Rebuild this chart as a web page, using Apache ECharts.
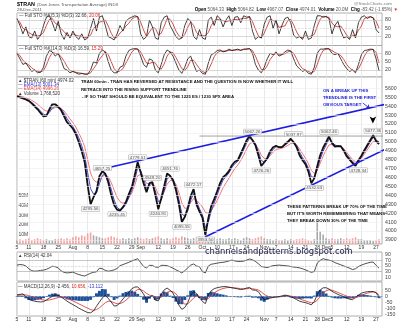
<!DOCTYPE html>
<html><head><meta charset="utf-8">
<script src="https://cdn.jsdelivr.net/npm/echarts@6/dist/echarts.min.js"></script>
<style>html,body{margin:0;padding:0;background:#fff}#c{width:400px;height:323px}</style>
</head><body><div id="c"></div>
<script>
// ---- trading days (categories) ----
const julDays=[5,6,7,8,11,12,13,14,15,18,19,20,21,22,25,26,27,28,29];
const augDays=[1,2,3,4,5,8,9,10,11,12,15,16,17,18,19,22,23,24,25,26,29,30,31];
const sepDays=[1,2,6,7,8,9,12,13,14,15,16,19,20,21,22,23,26,27,28,29,30];
const octDays=[3,4,5,6,7,10,11,12,13,14,17,18,19,20,21,24,25,26,27,28,31];
const novDays=[1,2,3,4,7,8,9,10,11,14,15,16,17,18,21,22,23,25,28,29,30];
const decDays=[1,2,5,6,7,8,9,12,13,14,15,16,19,20,21,22,23,27,28];

const tickLabels=[['Jul 5','5'],['Jul 11','11'],['Jul 18','18'],['Jul 25','25'],['Aug 1','Aug'],['Aug 8','8'],['Aug 15','15'],['Aug 22','22'],['Aug 29','29'],['Sep 1','Sep'],['Sep 12','12'],['Sep 19','19'],['Sep 26','26'],['Oct 3','Oct'],['Oct 10','10'],['Oct 17','17'],['Oct 24','24'],['Nov 1','Nov'],['Nov 7','7'],['Nov 14','14'],['Nov 21','21'],['Nov 28','28'],['Dec 1','Dec'],['Dec 5','5'],['Dec 12','12'],['Dec 19','19'],['Dec 27','27']];

const priceTicks=[3900,4000,4100,4200,4300,4400,4500,4600,4700,4800,4900,5000,5100,5200,5300,5400,5500,5600];
const volumeTicks=[10,20,30,40,50];
const stoTicks=[20,50,80];
const rsiTicks=[10,30,50,70,90];
const macdTicks=[-150,-100,-50,0,50];

// ---- price panel ----
const price=[
5510,5499,5488,5475,5460,5432,5399,5365,5324,5285,
5290,5365,5421,5421,5393,5354,5287,5220,5186,5147,
5085,4996,4895,4772,4515,4300,4380,4447,4615,4670,
4643,4548,4403,4291,4240,4229,4268,4324,4414,4492,
4626,4775,4660,4537,4436,4537,4549,4403,4245,4369,
4503,4645,4621,4570,4459,4302,4100,4157,4257,4391,
4470,4296,4218,4151,3955,4145,4280,4358,4447,4537,
4604,4632,4671,4738,4777,4794,4867,4940,5018,5065,
5018,4962,4850,4730,4772,4817,4895,4940,4957,4940,
4940,4973,5001,5035,4996,4940,4850,4794,4750,4666,
4535,4593,4727,4850,4934,4996,5060,4985,4946,4951,
4951,4901,4839,4800,4761,4730,4794,4845,4906,4962,
5018,5075,5007,4974];
const ema13=[
5505,5500,5492,5480,5465,5442,5412,5380,5345,5310,
5300,5330,5380,5400,5395,5370,5320,5262,5215,5170,
5115,5045,4955,4845,4655,4475,4415,4425,4530,4625,
4640,4585,4470,4350,4265,4240,4255,4300,4375,4455,
4570,4710,4680,4585,4480,4505,4535,4450,4330,4345,
4450,4585,4610,4585,4495,4355,4195,4165,4225,4345,
4420,4335,4250,4180,4040,4100,4225,4315,4405,4495,
4570,4612,4652,4712,4755,4782,4840,4910,4985,5040,
5025,4980,4890,4790,4775,4800,4865,4915,4945,4942,
4940,4962,4988,5018,5000,4960,4885,4825,4775,4705,
4610,4600,4690,4805,4895,4965,5030,5000,4965,4955,
4952,4915,4860,4818,4780,4752,4780,4828,4885,4942,
4998,5050,5020,5001];
const ema34=[
5522,5515,5505,5495,5482,5465,5445,5420,5392,5362,
5345,5350,5370,5385,5385,5375,5345,5302,5258,5215,
5165,5100,5030,4945,4800,4650,4575,4548,4570,4612,
4630,4610,4545,4460,4378,4330,4312,4325,4370,4430,
4515,4620,4635,4600,4535,4530,4542,4495,4410,4395,
4440,4525,4565,4570,4525,4430,4315,4255,4260,4320,
4365,4345,4310,4270,4210,4200,4232,4282,4342,4415,
4485,4540,4590,4650,4700,4740,4790,4850,4920,4978,
4995,4975,4920,4850,4815,4815,4845,4885,4915,4922,
4928,4942,4960,4982,4985,4965,4920,4868,4818,4755,
4680,4645,4680,4760,4840,4910,4965,4972,4958,4952,
4948,4925,4882,4842,4802,4775,4785,4815,4860,4910,
4960,5005,5005,4996];
const volume=[
4,5,4,5,6,4,5,6,5,4,
5,4,4,5,5,6,5,6,5,7,
8,7,9,8,11,12,9,8,7,6,
6,7,8,7,6,5,6,5,6,5,
6,7,6,5,6,5,6,7,8,6,
5,6,5,6,7,6,8,7,6,5,
6,7,8,7,8,6,5,6,5,6,
5,5,6,5,6,5,4,6,7,6,
5,6,7,8,6,5,5,4,5,4,
4,5,4,5,4,5,5,6,5,4,
3,5,24,13,10,6,5,6,5,5,
6,5,6,5,6,7,5,5,4,4,
4,3,4,5];
const peakLabels=[['Aug 15',4657.25],['Aug 31',4779.51],['Sep 8',4549.20],['Sep 16',4651.76],['Sep 28',4472.17],['Oct 26',5067.26],['Nov 15',5037.97],['Dec 2',5062.46],['Dec 23',5077.36]];
const lowLabels=[['Aug 9',4295.56],['Aug 22',4235.45],['Sep 12',4240.91],['Sep 22',4095.55],['Oct 4',3953.50],['Oct 31',4726.26],['Nov 25',4532.63],['Dec 16',4728.34]];
// trendlines / arrows in (day index, price)
const upperTrend=[[28.2,4690],[130.1,5458]];
const lowerTrend=[[63.9,3934],[130.1,4998]];
const resistance=[[62,5065],[124.6,5065]];
const arrowSmall=[[117.5,5435],[119.9,5374]];
const arrowBig=[[113.8,4326],[124.3,4886]];
const arrowDown=[120.9,5205];

// ---- oscillators ----
const sto5K=[
85,60,30,55,20,15,40,10,25,60,
90,95,70,40,75,30,10,35,15,40,
20,10,30,8,15,50,85,40,90,95,
60,20,15,8,30,60,40,75,85,90,
95,92,30,10,20,80,55,15,10,70,
90,95,60,40,20,10,15,60,85,75,
20,10,45,15,10,80,90,60,95,85,
55,80,95,60,90,92,70,95,90,92,
40,10,20,15,65,90,95,50,80,30,
60,85,90,70,25,15,20,10,40,10,
15,60,95,95,90,92,85,30,60,75,
40,15,20,10,45,15,70,90,95,85,
92,88,45,33];
const sto5D=[
80,72,50,45,35,28,25,22,25,35,
60,82,85,68,62,48,38,25,20,30,
25,22,20,16,18,25,50,58,72,75,
80,58,32,15,18,33,43,58,68,83,
90,92,72,44,20,37,52,50,27,32,
57,85,82,65,40,23,15,28,53,73,
60,35,25,23,23,35,60,77,82,80,
78,73,77,78,82,81,84,86,85,92,
74,47,23,15,33,57,83,78,75,53,
57,58,78,82,62,37,20,15,23,20,
22,28,57,83,93,92,89,69,58,55,
58,43,25,15,25,23,43,58,85,90,
91,88,75,50];
const sto14K=[
80,60,40,45,30,15,20,10,12,30,
70,90,85,70,80,55,25,20,10,15,
10,5,8,5,5,20,50,45,80,92,
85,50,20,10,10,30,35,70,90,95,
97,95,70,40,30,60,55,20,10,40,
75,92,85,70,45,20,8,30,60,70,
40,15,20,8,5,45,75,80,90,92,
85,88,95,90,92,95,90,95,96,97,
80,40,20,10,30,60,80,75,85,70,
75,85,92,88,60,35,25,15,20,8,
5,30,80,95,95,97,96,80,75,80,
60,40,25,15,20,10,40,75,90,92,
95,94,60,17];
const sto14D=[
82,72,55,45,38,28,20,15,13,18,
38,65,82,80,77,68,52,33,18,15,
12,10,8,6,6,10,25,40,58,72,
86,75,50,25,13,17,25,45,65,85,
94,96,85,65,45,43,48,45,28,23,
42,70,85,82,65,45,25,18,32,55,
55,40,25,15,10,20,42,68,82,88,
88,88,90,91,92,92,92,93,94,96,
90,70,45,22,20,35,58,72,80,77,
76,78,85,88,80,60,38,25,20,15,
10,15,40,70,90,95,96,90,83,78,
72,58,40,27,20,16,24,45,70,87,
92,94,83,45];
const rsi=[
53,55,54,50,40,33,31,32,34,35,
38,43,49,47,43,32,27,25,26,28,
23,19,16,14,19,24,27,29,42,40,
34,31,33,36,41,51,55,59,63,68,
72,76,62,48,43,52,52,46,45,52,
52,51,47,42,36,31,25,33,43,53,
57,50,47,30,25,50,56,58,60,62,
63,65,68,71,68,66,66,67,71,75,
72,66,58,48,46,44,48,51,52,53,
52,51,50,48,46,45,43,40,36,31,
27,30,60,70,76,73,71,68,62,58,
54,50,46,42,37,40,48,53,57,60,
63,64,52,42];
const macd=[
14,18,22,0,-20,-32,-38,-42,-44,-42,
-28,-12,2,12,10,-4,-20,-38,-53,-66,
-80,-95,-108,-120,-132,-134,-118,-80,-45,-10,
10,-15,-45,-78,-75,-50,-20,8,35,65,
78,80,55,20,-25,-5,8,-30,-35,20,
55,70,52,28,-20,-70,-105,-90,-50,10,
40,25,-10,-40,-58,15,48,65,73,78,
82,82,78,72,68,63,58,62,70,75,
55,52,40,5,-25,-20,-13,-7,-3,0,
5,12,8,-3,-12,-25,-38,-45,-50,-58,
-68,-40,14,55,72,73,62,44,30,18,
8,0,-12,-22,-26,-5,12,28,35,40,
42,42,30,-2];
const macdSignal=[
10,12,15,14,8,0,-8,-16,-23,-29,
-31,-28,-22,-15,-8,-5,-8,-15,-25,-36,
-48,-60,-72,-84,-96,-107,-113,-107,-92,-72,
-50,-38,-40,-50,-60,-58,-48,-30,-8,16,
40,58,58,46,26,12,8,-2,-12,-5,
14,35,45,40,22,-8,-42,-62,-60,-38,
-12,5,2,-12,-28,-15,8,30,46,58,
66,72,75,74,72,69,65,63,64,68,
64,60,54,38,18,4,-4,-6,-5,-3,
0,4,6,4,-1,-8,-18,-28,-36,-44,
-52,-48,-30,0,28,48,56,52,44,34,
24,14,4,-6,-14,-10,-2,10,20,28,
34,38,36,11];
const macdHist=[
4,6,7,-14,-28,-32,-30,-26,-21,-13,
3,16,24,27,18,1,-12,-23,-28,-30,
-32,-35,-36,-36,-36,-27,-5,27,47,62,
60,23,-5,-28,-15,8,28,38,43,49,
38,22,-3,-26,-51,-17,0,-28,-23,25,
41,35,7,-12,-42,-62,-63,-28,10,48,
52,20,-12,-28,-30,30,40,35,27,20,
16,10,3,-2,-4,-6,-7,-1,6,7,
-9,-8,-14,-33,-43,-24,-9,-1,2,3,
5,8,2,-7,-11,-17,-20,-17,-14,-14,
-16,8,44,55,44,25,6,-8,-14,-16,
-16,-14,-16,-16,-12,5,14,18,15,12,
8,4,-6,-13];

// ---- build ----
const months=[['Jul',julDays],['Aug',augDays],['Sep',sepDays],['Oct',octDays],['Nov',novDays],['Dec',decDays]];
const categories=[];
months.forEach(([m,d])=>d.forEach(x=>categories.push(m+' '+x)));
categories.push(''); // right padding slot
const tickMap={}; tickLabels.forEach(([c,l])=>tickMap[c]=l);
const tickIdx=new Set(tickLabels.map(t=>categories.indexOf(t[0])));

const FF='Liberation Sans';
const grids=[[13,32.5],[45.5,31.5],[77,167],[252,29],[282,34]].map(([t,h])=>({left:17,right:18,top:t,height:h,show:true,borderColor:'#9a9a9a',borderWidth:0.8,backgroundColor:'#fff'}));

function catAxis(gi,labels){
  return {type:'category',gridIndex:gi,data:categories,boundaryGap:false,
    axisLine:{show:false},axisTick:{show:false},
    splitLine:{show:true,interval:(i)=>tickIdx.has(i),lineStyle:{color:'#e3e3e3',width:0.8}},
    axisLabel:labels?{show:true,interval:0,hideOverlap:false,formatter:(v)=>tickMap[v]||'',fontSize:5,fontFamily:FF,color:'#333',margin:1.5}:{show:false}};
}
function valAxis(gi,min,max,vals,extra){
  return Object.assign({type:'value',gridIndex:gi,min,max,position:'right',
    axisLine:{show:false},axisTick:{show:false},splitLine:{show:false},
    axisLabel:{customValues:vals,fontSize:5.2,fontFamily:FF,color:'#444',margin:3,formatter:(v)=>String(v)}},extra||{});
}
function hLines(items){
  return {silent:true,symbol:'none',label:{show:false},animation:false,
    data:items.map(([v,c,t])=>({yAxis:v,lineStyle:{color:c,width:0.6,type:t||'solid'}}))};
}
const line=(xi,yi,data,color,w,z,extra)=>Object.assign({type:'line',xAxisIndex:xi,yAxisIndex:yi,data,showSymbol:false,symbol:'none',z:z||2,lineStyle:{color,width:w},silent:true},extra||{});

const stoLines=hLines([[80,'#bdbdbd'],[50,'#cfcfcf','dashed'],[20,'#bdbdbd']]);

const labelBox={show:true,fontSize:4.4,fontFamily:FF,color:'#555',backgroundColor:'#f6f6f6',borderColor:'#aaa',borderWidth:0.5,padding:[0.5,1,0,1],distance:2};

const series=[
  line(0,0,sto5D,'#cc2020',0.8,1,{markLine:stoLines}),
  line(0,0,sto5K,'#111',0.8,2),
  line(1,1,sto14D,'#cc2020',0.8,1,{markLine:stoLines}),
  line(1,1,sto14K,'#111',0.8,2),
  {type:'bar',xAxisIndex:2,yAxisIndex:3,data:volume,barWidth:1.6,z:1,silent:true,
    itemStyle:{color:(p)=>(p.dataIndex>0&&price[p.dataIndex]<price[p.dataIndex-1])?'#f2a3a3':'#a8a8a8'}},
  line(2,2,ema34,'#f06868',0.9,1,{markLine:hLines(priceTicks.map(v=>[v,'#ececec']))}),
  line(2,2,ema13,'#3535cc',0.9,2),
  line(2,2,price,'#111',1.8,3,{markPoint:{symbol:'circle',symbolSize:0,silent:true,
    data:peakLabels.map(([d,v])=>({name:v.toFixed(2),coord:[d,v],label:Object.assign({},labelBox,{position:'top',formatter:v.toFixed(2)})}))
      .concat(lowLabels.map(([d,v])=>({name:v.toFixed(2),coord:[d,v],label:Object.assign({},labelBox,{position:'bottom',formatter:v.toFixed(2)})})))}}),
  line(5,2,resistance,'#8a8a8a',0.8,3,{clip:false}),
  line(5,2,upperTrend,'#1d1de0',1.5,4,{clip:false,
    markLine:{silent:true,symbol:['none','arrow'],symbolSize:4,label:{show:false},lineStyle:{color:'#2a2ae0',width:0.9,type:'solid'},
      data:[[{coord:arrowSmall[0]},{coord:arrowSmall[1]}],[{coord:arrowBig[0]},{coord:arrowBig[1]}]]},
    markPoint:{silent:true,data:[{coord:arrowDown,symbol:'arrow',symbolRotate:180,symbolSize:[5,7],itemStyle:{color:'#000'},label:{show:false}}]}}),
  line(5,2,lowerTrend,'#1d1de0',1.5,4,{clip:false}),
  line(3,4,rsi,'#222',0.8,2,{markLine:hLines([[70,'#a0a0a0'],[50,'#c8c8c8','dashed'],[30,'#a0a0a0']])}),
  {type:'bar',xAxisIndex:4,yAxisIndex:5,data:macdHist,barCategoryGap:'0%',z:1,silent:true,itemStyle:{color:'#1f4f98'},
    markLine:hLines([[0,'#2a5aa8','dashed']])},
  line(4,5,macdSignal,'#e04040',0.9,2),
  line(4,5,macd,'#111',0.8,3)
];

const T=(x,y,text,style)=>({type:'text',x,y,z:100,silent:true,style:Object.assign({text,fontFamily:FF,fontSize:4.5,fill:'#333',align:'left',verticalAlign:'middle'},style||{})});
const ann={fontFamily:FF,fontSize:4.3,fontWeight:'bold',fill:'#111'};
const annB=Object.assign({},ann,{fill:'#2626d8'});
const rich={b:{fontFamily:FF,fontSize:4.6,fontWeight:'bold',fill:'#000'},r:{fontFamily:FF,fontSize:4.5,fill:'#e02020'},u:{fontFamily:FF,fontSize:4.5,fill:'#3333cc'}};

const graphic=[
  T(17,4.5,'$TRAN',{fontSize:5.4,fontWeight:'bold',fill:'#000'}),
  T(37,4.5,'(Dow Jones Transportation Average) INDX',{fontSize:4.3,fill:'#555'}),
  T(17,10,'28-Dec-2011',{fontSize:4.4,fill:'#555'}),
  T(392,4,'@StockCharts.com',{fontSize:4.4,fill:'#777',align:'right'}),
  T(398,10,'{b|Open} 5064.33  {b|High} 5064.82  {b|Low} 4967.07  {b|Close} 4974.01  {b|Volume} 20.0M  {b|Chg} -83.42 (-1.65%) {r|▼}',{fontSize:4.5,fill:'#555',align:'right',rich}),
  T(19,16,'— Full STO %K(5,3) %D(3) 32.66, {r|20.06}',{fill:'#333',rich}),
  T(19,48.5,'— Full STO %K(14,3) %D(3) 16.59, {r|15.29}',{fill:'#333',rich}),
  T(18,80.8,'▲ $TRAN (60 min) 4974.02',{fill:'#333'}),
  T(18,85,'— EMA(13) 5001.34',{fill:'#3333cc'}),
  T(18,89.2,'— EMA(34) 4996.26',{fill:'#e04848'}),
  T(18,93.5,'▲ Volume 1,768,520',{fill:'#333'}),
  T(18,256,'▲ RSI(14) 42.04',{fill:'#333'}),
  T(18,286.5,'— MACD(12,26,9) -2.456, {r|10.656}, {u|-13.112}',{fill:'#333',rich}),
  T(81,82,'TRAN 60min - TRAN HAS REVERSED AT RESISTANCE AND THE QUESTION IS NOW WHETHER IT WILL',ann),
  T(81,89.5,'RETRACE INTO THE RISING SUPPORT TRENDLINE',ann),
  T(82,97,'- IF SO THAT SHOULD BE EQUIVALENT TO THE 1225 ES / 1230 SPX AREA',ann),
  T(323,91,'ON A BREAK UP THIS',annB),
  T(323,98,'TRENDLINE IS THE FIRST',annB),
  T(323,104.5,'OBVIOUS TARGET',annB),
  T(287,207,'THESE PATTERNS BREAK UP 70% OF THE TIME',ann),
  T(287,214,'BUT IT\'S WORTH REMEMBERING THAT MEANS',ann),
  T(287,221,'THEY BREAK DOWN 30% OF THE TIME',ann),
  T(205,252,'channelsandpatterns.blogspot.com',{fontFamily:'DejaVu Sans',fontSize:8.4,fill:'#1c1c4a'})
];

const option={
  animation:false,backgroundColor:'#fff',
  grid:grids,
  xAxis:[catAxis(0,false),catAxis(1,false),catAxis(2,true),catAxis(3,false),catAxis(4,true),
    {type:'value',gridIndex:2,min:0,max:124,show:false}],
  yAxis:[
    valAxis(0,-12,105,stoTicks),
    valAxis(1,-5,108,stoTicks),
    valAxis(2,3855,5727,priceTicks),
    valAxis(2,0,174,volumeTicks,{position:'left',axisLabel:{customValues:volumeTicks,inside:true,fontSize:5,fontFamily:FF,color:'#444',margin:1.5,formatter:(v)=>v+'M'}}),
    valAxis(3,-4,100,rsiTicks),
    valAxis(4,-160,120,macdTicks)
  ],
  series,graphic
};
const chart=echarts.init(document.getElementById('c'),null,{renderer:'canvas'});
chart.setOption(option);
</script></body></html>
